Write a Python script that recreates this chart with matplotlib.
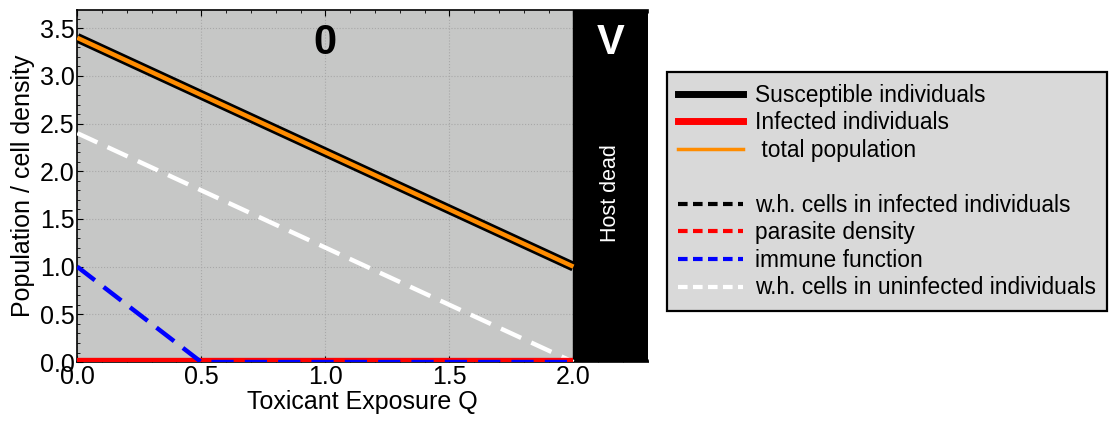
import numpy as np
import matplotlib.pyplot as plt
from matplotlib.lines import Line2D
from matplotlib.ticker import MultipleLocator

plt.rcParams['font.family'] = ['Liberation Sans', 'DejaVu Sans']

# data
q = [0.0, 2.0]
susceptible = [3.4, 1.0]
total_pop = [3.4, 1.0]
infected = [0.0, 0.0]
wh_infected = [0.0, 0.0]
parasite = [0.0, 0.0]
q_immune = [0.0, 0.5, 2.0]
immune = [1.0, 0.0, 0.0]
wh_uninfected = [2.4, 0.0]

q_dead = 2.0
q_max = 2.3

fig = plt.figure(figsize=(11.19, 4.21), dpi=100)
ax = fig.add_axes([0.069, 0.140, 0.510, 0.836])

ax.axvspan(0, q_dead, color='#c6c7c6', zorder=0.1)
ax.axvspan(q_dead, q_max, color='black', zorder=1)
ax.set_axisbelow(True)
ax.grid(True, color='#a8a8a8', linestyle=':', linewidth=0.8)

ax.plot(q, wh_uninfected, color='white', lw=3.2, dashes=(5, 2.5), zorder=3)
ax.plot(q, infected, color='red', lw=6, solid_capstyle='butt', zorder=3)
ax.plot(q, parasite, color='red', lw=3, dashes=(4, 2), zorder=3)
ax.plot(q, wh_infected, color='black', lw=3, dashes=(4, 2), zorder=2)
ax.plot(q_immune, immune, color='blue', lw=3.2, dashes=(5, 2.5), zorder=4)
ax.plot(q, susceptible, color='black', lw=7, solid_capstyle='butt', zorder=5)
ax.plot(q, total_pop, color='#ff8c00', lw=3.2, solid_capstyle='butt', zorder=6)

ax.set_xlim(0, q_max)
ax.set_ylim(0, 3.69)
ax.set_xticks([0.0, 0.5, 1.0, 1.5, 2.0])
ax.set_yticks([0.0, 0.5, 1.0, 1.5, 2.0, 2.5, 3.0, 3.5])
ax.xaxis.set_minor_locator(MultipleLocator(0.1))
ax.yaxis.set_minor_locator(MultipleLocator(0.1))
ax.tick_params(direction='in', labelsize=18, length=4, pad=2, top=True)
ax.tick_params(which='minor', direction='in', length=2, top=True)
ax.set_xlabel('Toxicant Exposure Q', fontsize=18, labelpad=1)
ax.set_ylabel('Population / cell density', fontsize=18, labelpad=3)
for s in ['left', 'bottom', 'top']:
    ax.spines[s].set_linewidth(1.2)
ax.spines['right'].set_visible(False)

ax.text(1.0, 3.35, '0', fontsize=30, fontweight='bold', ha='center', va='center', zorder=7)
ax.text(2.15, 3.35, 'V', fontsize=30, fontweight='bold', color='white', ha='center', va='center', zorder=7)
ax.text(2.15, 1.77, 'Host dead', fontsize=15.5, color='white', rotation=90, ha='center', va='center', zorder=7)

handles = [
    Line2D([], [], color='black', lw=5),
    Line2D([], [], color='red', lw=5),
    Line2D([], [], color='#ff8c00', lw=2.5),
    Line2D([], [], color='none'),
    Line2D([], [], color='black', lw=3, dashes=(2.3, 1.3)),
    Line2D([], [], color='red', lw=3, dashes=(2.3, 1.3)),
    Line2D([], [], color='blue', lw=3, dashes=(2.3, 1.3)),
    Line2D([], [], color='white', lw=3, dashes=(2.3, 1.3)),
]
labels = ['Susceptible individuals', 'Infected individuals', ' total population', '',
          'w.h. cells in infected individuals', 'parasite density', 'immune function',
          'w.h. cells in uninfected individuals']
leg = fig.legend(handles, labels, loc='center left', bbox_to_anchor=(0.596, 0.545),
                 fontsize=16.4, frameon=True, fancybox=False, handlelength=2.85,
                 handletextpad=0.5, labelspacing=0.2, borderpad=0.5, borderaxespad=0)
leg.get_frame().set_facecolor('#d9d9d9')
leg.get_frame().set_edgecolor('black')
leg.get_frame().set_linewidth(1.6)
leg.get_frame().set_alpha(1)

fig.savefig('out.png', dpi=100)
